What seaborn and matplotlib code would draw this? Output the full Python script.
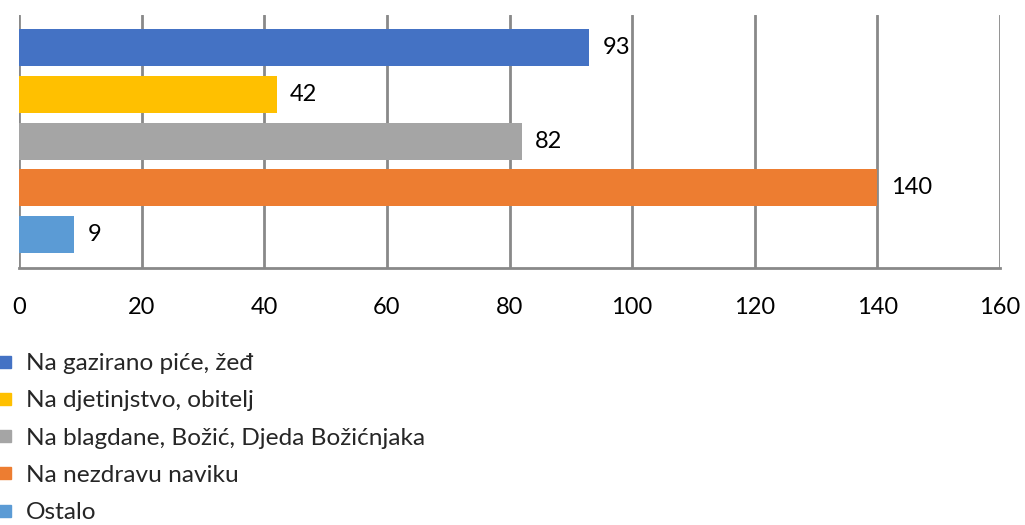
import matplotlib
matplotlib.use("Agg")
import matplotlib.pyplot as plt
from matplotlib.lines import Line2D
import seaborn as sns
import pandas as pd

categories = [
    "Na gazirano piće, žeđ",
    "Na djetinjstvo, obitelj",
    "Na blagdane, Božić, Djeda Božićnjaka",
    "Na nezdravu naviku",
    "Ostalo",
]
values = [93, 42, 82, 140, 9]
colors = ["#4472C4", "#FFC000", "#A5A5A5", "#ED7D31", "#5B9BD5"]
x_ticks = [0, 20, 40, 60, 80, 100, 120, 140, 160]

sns.set_theme(style="white")
plt.rcParams["font.family"] = ["Lato", "DejaVu Sans"]

df = pd.DataFrame({"kategorija": categories, "broj": values})

fig = plt.figure(figsize=(10.25, 5.25), dpi=100)
ax = fig.add_axes([19 / 1025, 1 - 268 / 525, 981 / 1025, 253 / 525])

sns.barplot(
    data=df, y="kategorija", x="broj", hue="kategorija",
    palette=colors, orient="h", width=0.79, dodge=False,
    legend=False, ax=ax, saturation=1, linewidth=0,
)

ax.set_xlim(0, 160)
ax.set_ylim(4.71, -0.69)
ax.set_xticks(x_ticks)
ax.set_xticklabels([str(t) for t in x_ticks], fontsize=17, color="#000000")
ax.tick_params(axis="x", length=0, pad=21)
ax.set_yticks([])
ax.set_xlabel("")
ax.set_ylabel("")

grid_color = "#898989"
for t in x_ticks:
    ax.axvline(t, color=grid_color, lw=2, zorder=0)
for side in ["top", "right", "left"]:
    ax.spines[side].set_visible(False)
ax.spines["bottom"].set_color(grid_color)
ax.spines["bottom"].set_linewidth(2)

for i, v in enumerate(values):
    ax.text(v + 2.2, i, str(v), va="center", ha="left", fontsize=17, color="#000000")

handles = [
    Line2D([0], [0], marker="s", linestyle="none", markersize=8,
           markerfacecolor=c, markeredgecolor=c)
    for c in colors
]
fig.legend(
    handles, categories, loc="upper left", bbox_to_anchor=(-0.002, 1 - 353 / 525),
    frameon=False, fontsize=17.6, handlelength=0.6, handletextpad=0.55,
    labelspacing=0.66, borderaxespad=0, borderpad=0,
)

fig.savefig("out.png", dpi=100)
